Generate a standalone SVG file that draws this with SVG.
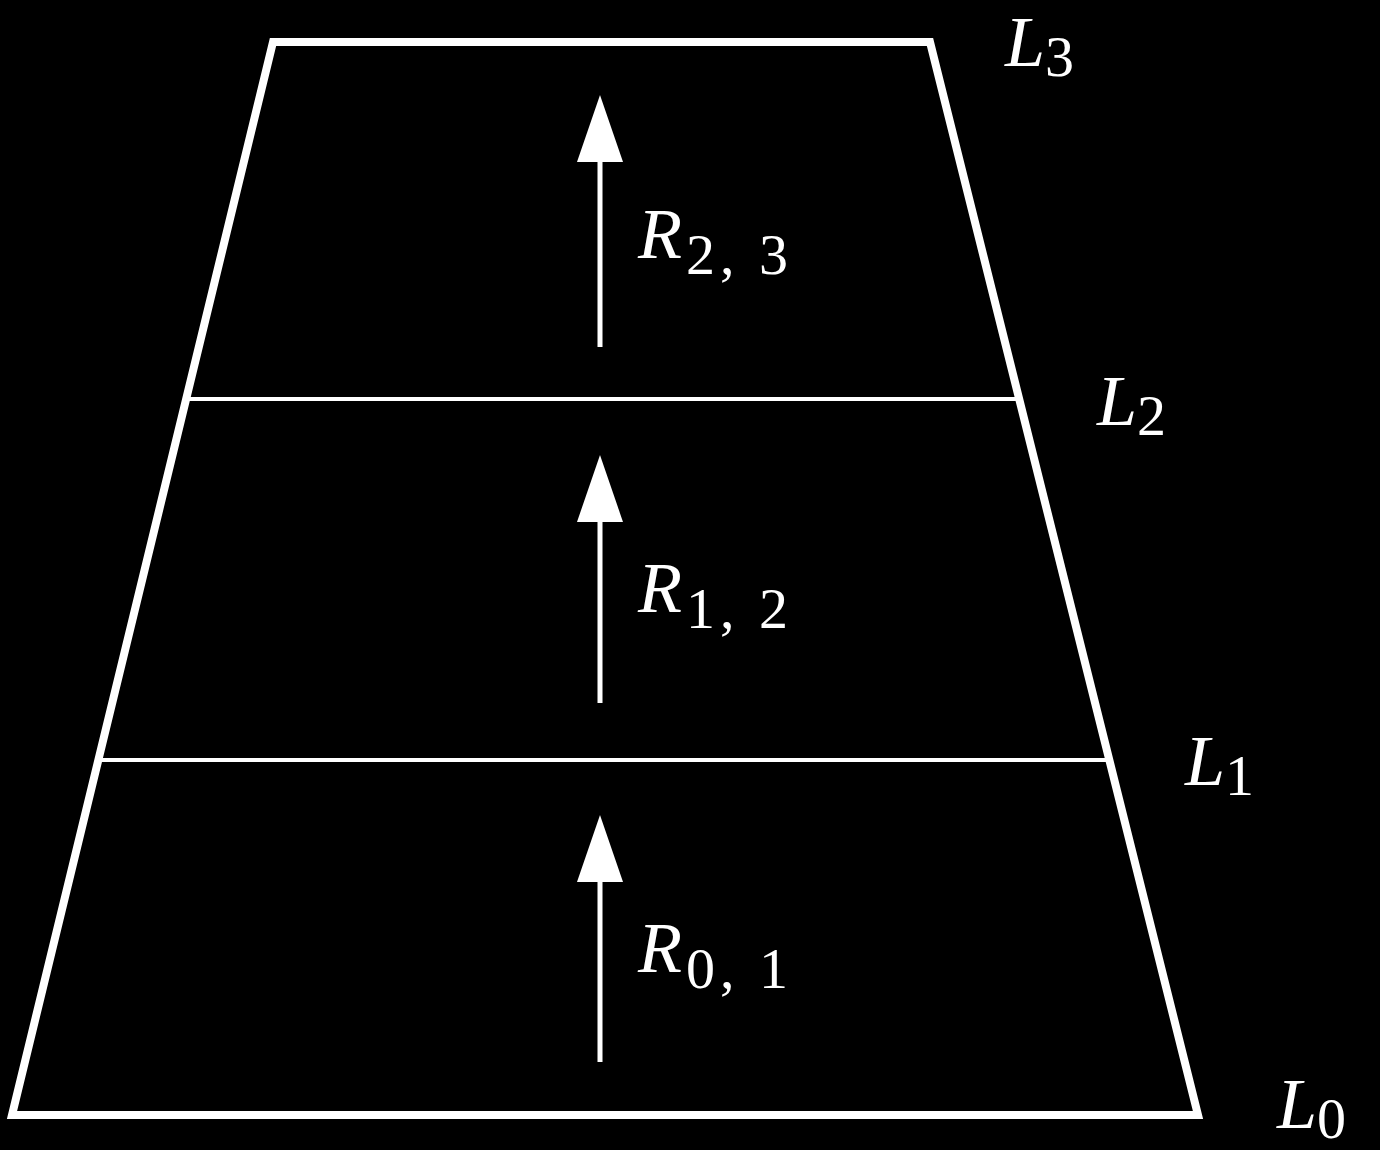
<svg xmlns="http://www.w3.org/2000/svg" width="1380" height="1150" viewBox="0 0 1380 1150">
<style>
.o{fill:none;stroke:#fff;stroke-width:8;stroke-linejoin:miter}
.l{stroke:#fff;stroke-width:4}
.a{stroke:#fff;stroke-width:5}
.h{fill:#fff}
.t{fill:#fff;font-family:"Liberation Serif",serif;font-size:72px;font-style:italic}
.s{font-style:normal;font-size:58px;font-family:"Liberation Serif",serif;letter-spacing:5px}
</style>
<rect width="1380" height="1150" fill="#000"/>
<g id="frame"><path class="o" d="M273,42 L930,42 L1198,1115 L12,1115 Z"/>
<line class="l" x1="187" y1="399" x2="1016" y2="399"/>
<line class="l" x1="97" y1="760" x2="1106" y2="760"/></g>
<g id="connectors">
<line class="a" x1="600" y1="347" x2="600" y2="150"/><path class="h" d="M600,95 L577,162 L623,162 Z"/>
<line class="a" x1="600" y1="703" x2="600" y2="510"/><path class="h" d="M600,455 L577,522 L623,522 Z"/>
<line class="a" x1="600" y1="1062" x2="600" y2="870"/><path class="h" d="M600,815 L577,882 L623,882 Z"/>
</g>
<g id="labels">
<text class="t" x="638" y="258">R<tspan class="s" dx="4" dy="16">2, 3</tspan></text>
<text class="t" x="638" y="612">R<tspan class="s" dx="4" dy="16">1, 2</tspan></text>
<text class="t" x="638" y="972">R<tspan class="s" dx="4" dy="16">0, 1</tspan></text>
<text class="t" x="1005" y="66">L<tspan class="s" dy="10">3</tspan></text>
<text class="t" x="1097" y="425">L<tspan class="s" dy="10">2</tspan></text>
<text class="t" x="1185" y="785">L<tspan class="s" dy="10">1</tspan></text>
<text class="t" x="1277" y="1128">L<tspan class="s" dy="10">0</tspan></text>
</g>
</svg>
